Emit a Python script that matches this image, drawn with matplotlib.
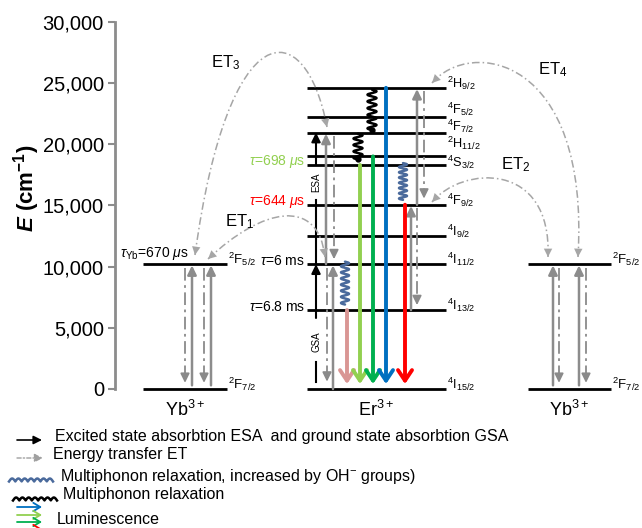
import numpy as np
import matplotlib
matplotlib.use('Agg')
import matplotlib.pyplot as plt
from matplotlib.transforms import Affine2D
from matplotlib.path import Path
from matplotlib.patches import PathPatch

plt.rcParams['font.family'] = ['Liberation Sans', 'DejaVu Sans']
plt.rcParams['mathtext.fontset'] = 'custom'
plt.rcParams['mathtext.rm'] = 'Liberation Sans'
plt.rcParams['mathtext.it'] = 'Liberation Sans:italic'
plt.rcParams['mathtext.bf'] = 'Liberation Sans:bold'
try:
    plt.rcParams['mathtext.bfit'] = 'Liberation Sans:bold:italic'
except KeyError:
    pass

# ---------------- data ----------------
er_labels = [r'$^{4}$I$_{15/2}$', r'$^{4}$I$_{13/2}$', r'$^{4}$I$_{11/2}$', r'$^{4}$I$_{9/2}$',
             r'$^{4}$F$_{9/2}$', r'$^{4}$S$_{3/2}$', r'$^{2}$H$_{11/2}$', r'$^{4}$F$_{7/2}$',
             r'$^{4}$F$_{5/2}$', r'$^{2}$H$_{9/2}$']
er_energy = [0, 6450, 10200, 12500, 15050, 18300, 19000, 20950, 22200, 24600]
yb_labels = [r'$^{2}$F$_{7/2}$', r'$^{2}$F$_{5/2}$']
yb_energy = [0, 10200]
ion_labels = ['Yb$^{3+}$', 'Er$^{3+}$', 'Yb$^{3+}$']
yticks = [0, 5000, 10000, 15000, 20000, 25000, 30000]
ytick_labels = ['0', '5,000', '10,000', '15,000', '20,000', '25,000', '30,000']
tau_labels = [r'$\tau$=6.8 ms', r'$\tau$=6 ms', r'$\tau$=644 $\mu$s', r'$\tau$=698 $\mu$s']
tau_energy = [6450, 10200, 15050, 18300]
tau_colors = ['black', 'black', '#ff0000', '#92d050']
yb_tau_label = r'$\tau_{\rm Yb}$=670 $\mu$s'
lum_from = [6450, 18300, 19000, 24600, 15050]
lum_colors = ['#d99694', '#92d050', '#00b050', '#0070c0', '#ff0000']
et_labels = ['ET$_{1}$', 'ET$_{2}$', 'ET$_{3}$', 'ET$_{4}$']
legend_texts = ['Excited state absorbtion ESA  and ground state absorbtion GSA',
                'Energy transfer ET',
                'Multiphonon relaxation, increased by OH$^{-}$ groups)',
                'Multiphonon relaxation',
                'Luminescence']

# ---------------- layout ----------------
W, H = 642, 528
fig = plt.figure(figsize=(W / 100, H / 100), dpi=100)
ax_l, ax_top, ax_bot = 115, 21.7, 389
ax = fig.add_axes([ax_l / W, (H - ax_bot) / H, (W - ax_l) / W, (ax_bot - ax_top) / H])
ax.set_xlim(ax_l, W)
ax.set_ylim(0, 30000)
for s in ['top', 'right', 'bottom']:
    ax.spines[s].set_visible(False)
ax.spines['left'].set_color('#8c8c8c')
ax.spines['left'].set_linewidth(2)
ax.set_xticks([])
ax.set_yticks(yticks)
ax.set_yticklabels(ytick_labels, fontsize=14.5)
ax.tick_params(axis='y', color='#8c8c8c', length=5, width=1.5, pad=3)

# pixel transform (figure pixels, origin top-left)
tpx = Affine2D().scale(1 / W, -1 / H).translate(0, 1) + fig.transFigure

yb_left = (143, 227)
er_x = (307, 446)
yb_right = (528, 611)
er_label_dy = [0, 0, 0, 0, 0, -120, 680, 120, 280, 0]

GRAY = '#8c8c8c'
DGRAY = '#8a8a8a'
ETGRAY = '#a6a6a6'


def level(x0, x1, e):
    ax.plot([x0, x1], [e, e], color='black', lw=2, solid_capstyle='butt', clip_on=False, zorder=3)


for e, lab, dy in zip(er_energy, er_labels, er_label_dy):
    level(*er_x, e)
    ax.text(er_x[1] + 1, e + dy, lab, fontsize=9.2, ha='left', va='baseline', clip_on=False)
for xs in (yb_left, yb_right):
    for e, lab in zip(yb_energy, yb_labels):
        level(*xs, e)
        ax.text(xs[1] + 1, e, lab, fontsize=9.5, ha='left', va='baseline', clip_on=False)

# ion labels
for xc, lab in zip([185, 376, 569], ion_labels):
    ax.text(xc, -1750, lab, fontsize=13, ha='center', va='center', clip_on=False)

# lifetimes
for lab, e, c in zip(tau_labels, tau_energy, tau_colors):
    ax.text(305, e + 250, lab, fontsize=10, color=c, ha='right', va='center')
ax.text(120, yb_energy[1] + 900, yb_tau_label, fontsize=10, ha='left', va='center')


def head_arrow(x, e_from, e_to, color, lw, ls='-', ms=12, hl=0.45, hw=0.22, style='-|>'):
    ax.annotate('', xy=(x, e_to), xytext=(x, e_from),
                arrowprops=dict(arrowstyle=f'{style},head_length={hl},head_width={hw}',
                                color=color, lw=lw, linestyle=ls, shrinkA=0, shrinkB=0,
                                mutation_scale=ms), annotation_clip=False, zorder=4)


def dd_arrow(x, e_from, e_to, color=DGRAY, lw=1.3):
    sgn = np.sign(e_to - e_from)
    ax.plot([x, x], [e_from, e_to - sgn * 300], color=color, lw=lw,
            linestyle=(0, (7, 2.5, 1.5, 2.5)), zorder=4)
    head_arrow(x, e_to - sgn * 500, e_to, color, lw)


# Yb gray arrows (solid up, dash-dot down)
gap = 300
for xs in (185, 204):
    dd_arrow(xs, yb_energy[1] - gap, yb_energy[0] + 500)
for xs in (192, 211):
    head_arrow(xs, yb_energy[0] + 300, yb_energy[1] - 100, GRAY, 1.8)
for xs in (559, 586):
    dd_arrow(xs, yb_energy[1] - gap, yb_energy[0] + 500)
for xs in (553, 579):
    head_arrow(xs, yb_energy[0] + 300, yb_energy[1] - 100, GRAY, 1.8)

# Er gray arrows
head_arrow(326, er_energy[2], er_energy[7] - 100, GRAY, 1.8)
dd_arrow(334, er_energy[7] - 300, er_energy[2] + 400)
dd_arrow(327, er_energy[2] - 300, er_energy[0] + 600)
head_arrow(333, er_energy[0], er_energy[2] - 100, GRAY, 1.8)
head_arrow(417, er_energy[4], er_energy[9] - 100, GRAY, 1.8)
dd_arrow(424, er_energy[9] - 300, er_energy[4] + 500)
head_arrow(411, er_energy[1], er_energy[4] - 100, GRAY, 1.8)
dd_arrow(417, er_energy[4] - 300, er_energy[1] + 400)

# ESA / GSA black arrows
ax.plot([316, 316], [er_energy[2], 15400], color='black', lw=1.5, zorder=4)
head_arrow(316, 18300, er_energy[7], 'black', 1.5)
ax.text(316, 16900, 'ESA', rotation=90, fontsize=7, ha='center', va='center')
ax.plot([316, 316], [600, 2200], color='black', lw=1.5, zorder=4)
head_arrow(316, 5800, er_energy[2], 'black', 1.5)
ax.text(316, 3840, 'GSA', rotation=90, fontsize=7, ha='center', va='center')

# luminescence arrows
for x, e0, c in zip([347, 360, 373, 386, 405], lum_from, lum_colors):
    head_arrow(x, e0, 400, c, 2.8, ms=18, hl=0.42, hw=0.28, style='->')


# wiggles (multiphonon relaxation)
def wiggle(x, e_top, e_bot, color, ncyc, amp=4.0, lw=1.8, dot=False):
    t = np.linspace(0, 1, 500)
    xs = x + amp * np.sin(2 * np.pi * ncyc * t)
    ys = e_top + (e_bot - e_top) * t
    ax.plot(xs, ys, color=color, lw=lw, zorder=5, solid_capstyle='round')
    if dot:
        ax.plot(xs[-1], ys[-1], 'o', color=color, ms=3.5, zorder=5)


BLUEW = '#4a6a9c'
wiggle(372, 24450, 21150, 'black', 6, amp=4.5, dot=True)
wiggle(358, 20850, 18750, 'black', 4, amp=4.5, dot=True)
wiggle(403, 18450, 15450, BLUEW, 7)
wiggle(345, 10400, 6900, BLUEW, 7)


# ET curves (pixel coordinates)
def et_curve(p0, p1, p2, p3):
    verts = [p0, p1, p2, p3]
    path = Path(verts, [Path.MOVETO, Path.CURVE4, Path.CURVE4, Path.CURVE4])
    patch = PathPatch(path, facecolor='none', edgecolor=ETGRAY, lw=1.1,
                      linestyle=(0, (5, 2, 1, 2)), transform=tpx, zorder=2)
    fig.add_artist(patch)

    def bez(t):
        p = np.array(verts, float)
        return ((1 - t) ** 3) * p[0] + 3 * (1 - t) ** 2 * t * p[1] + 3 * (1 - t) * t ** 2 * p[2] + t ** 3 * p[3]

    for t_end, t_in in ((0.0, 0.04), (1.0, 0.96)):
        a = bez(t_end)
        b = bez(t_in)
        fig.add_artist(matplotlib.patches.FancyArrowPatch(
            tuple(b), tuple(a), transform=tpx, arrowstyle='-|>,head_length=0.5,head_width=0.25',
            mutation_scale=12, color=ETGRAY, lw=0.01, shrinkA=0, shrinkB=0, zorder=2))


et_curve((208, 259), (262, 208), (318, 196), (325, 257))   # ET1
et_curve((432, 202), (462, 166), (552, 160), (548, 257))   # ET2
et_curve((195, 255), (228, 12), (305, 12), (327, 127))     # ET3
et_curve((432, 83), (470, 38), (590, 55), (578, 257))      # ET4

for lab, (x, y) in zip(et_labels, [(240, 222), (516, 165), (226, 63), (553, 70)]):
    fig.text(x, y, lab, fontsize=12, ha='center', va='center', transform=tpx)

# y label
fig.text(27, 188, r'$\mathbfit{E}$ (cm$^{\mathbf{-1}}$)', fontsize=16, fontweight='bold',
         rotation=90, ha='center', va='center', transform=tpx)

# ---------------- legend ----------------
def leg_arrow(x0, x1, y, color, lw=1.2, ls='-', style='-|>', hl=0.5, hw=0.25):
    fig.add_artist(matplotlib.patches.FancyArrowPatch(
        (x0, y), (x1, y), transform=tpx, arrowstyle=f'{style},head_length={hl},head_width={hw}',
        mutation_scale=10, color=color, lw=lw, linestyle=ls, shrinkA=0, shrinkB=0))


def leg_wiggle(x0, x1, y, color, ncyc, amp=3.0, lw=1.8):
    t = np.linspace(0, 1, 300)
    xs = x0 + (x1 - x0) * t
    ys = y - amp * np.abs(np.sin(np.pi * ncyc * t)) + amp / 2
    fig.add_artist(matplotlib.lines.Line2D(xs, ys, color=color, lw=lw, transform=tpx))


leg_arrow(17, 42, 440, 'black')
fig.text(55, 437, legend_texts[0], fontsize=11.5, ha='left', va='center', transform=tpx)
leg_arrow(17, 43, 458, '#a0a0a0', lw=1.0, ls=(0, (3, 1.5, 1, 1.5)))
fig.text(53, 455, legend_texts[1], fontsize=11.5, ha='left', va='center', transform=tpx)
leg_wiggle(9, 53, 480, BLUEW, 7)
fig.text(60, 477, legend_texts[2], fontsize=11.5, ha='left', va='center', transform=tpx)
leg_wiggle(13, 57, 499, 'black', 7)
fig.text(63, 494, legend_texts[3], fontsize=11.5, ha='left', va='center', transform=tpx)
for y, c in zip([507, 515, 522, 529], ['#0070c0', '#92d050', '#00b050', '#ff0000']):
    leg_arrow(17, 42, y, c, lw=1.3, style='->', hl=0.5, hw=0.3)
fig.text(57, 520, legend_texts[4], fontsize=11.5, ha='left', va='center', transform=tpx)

fig.savefig('out.png', dpi=100)
